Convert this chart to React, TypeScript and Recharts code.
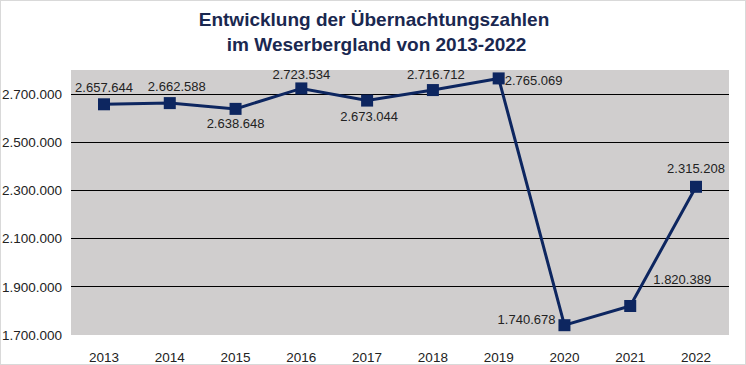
import { CartesianGrid, LabelList, Line, LineChart, ReferenceLine, XAxis, YAxis } from "recharts";

const years = ["2013", "2014", "2015", "2016", "2017", "2018", "2019", "2020", "2021", "2022"];
const nights = [2657644, 2662588, 2638648, 2723534, 2673044, 2716712, 2765069, 1740678, 1820389, 2315208];
const yTicks = [1700000, 1900000, 2100000, 2300000, 2500000, 2700000];

// where each value label sits relative to its marker
const labelPos: { dx: number; dy: number; anchor: "start" | "middle" | "end" }[] = [
  { dx: 0, dy: -17, anchor: "middle" },
  { dx: 7, dy: -17, anchor: "middle" },
  { dx: 0, dy: 15, anchor: "middle" },
  { dx: 0, dy: -14, anchor: "middle" },
  { dx: 2, dy: 16, anchor: "middle" },
  { dx: 3, dy: -16, anchor: "middle" },
  { dx: 6, dy: 2, anchor: "start" },
  { dx: -9, dy: -6, anchor: "end" },
  { dx: 52, dy: -26, anchor: "middle" },
  { dx: 0, dy: -18, anchor: "middle" },
];

const data = years.map((y, i) => ({ year: y, v: nights[i] }));
const fmt = (n: number) => n.toLocaleString("de-DE");
const NAVY = "#0d2660";
const FONT = "'Liberation Sans', Arial, sans-serif";

const Square = (p: any) => (
  <rect x={p.cx - 6} y={p.cy - 6} width={12} height={12} fill={NAVY} />
);

const ValueLabel = (p: any) => {
  const pos = labelPos[p.index];
  return (
    <text
      x={p.x + pos.dx}
      y={p.y + pos.dy}
      textAnchor={pos.anchor}
      dominantBaseline="central"
      fontSize={13}
      fontFamily={FONT}
      fill="#222"
    >
      {fmt(p.value)}
    </text>
  );
};

export default function App() {
  return (
    <div style={{ position: "relative", width: 746, height: 365, background: "#fff", boxSizing: "border-box", border: "1px solid #d9d9d9" }}>
      <style>{`body{margin:0}`}</style>
      <div
        style={{
          position: "absolute",
          top: 6,
          left: 0,
          width: 746,
          textAlign: "center",
          fontFamily: FONT,
          fontWeight: 700,
          fontSize: 19,
          lineHeight: "25px",
          color: "#1a2850",
        }}
      >
        Entwicklung der Übernachtungszahlen
        <br />
        &nbsp;im Weserbergland von 2013-2022
      </div>
      <LineChart
        width={744}
        height={363}
        data={data}
        margin={{ top: 69, right: 16, bottom: 0, left: 0 }}
        style={{ position: "absolute", top: 0, left: 0 }}
      >
        <CartesianGrid horizontal={false} vertical={false} fill="#d0cece" />
        {yTicks.slice(1).map((t) => (
          <ReferenceLine key={t} y={t} stroke="#000" strokeWidth={1} shapeRendering="crispEdges" />
        ))}
        <XAxis
          dataKey="year"
          padding={{ left: 33, right: 33 }}
          axisLine={false}
          tickLine={false}
          tickSize={0}
          tickMargin={17}
          height={29}
          tick={{ fontSize: 13.5, fontFamily: FONT, fill: "#222" }}
          interval={0}
        />
        <YAxis
          domain={[1700000, 2800000]}
          ticks={yTicks}
          tickFormatter={fmt}
          axisLine={false}
          tickLine={false}
          tickSize={0}
          tickMargin={9}
          width={70}
          tick={{ fontSize: 13.5, fontFamily: FONT, fill: "#222" }}
        />
        <Line
          type="linear"
          dataKey="v"
          stroke={NAVY}
          strokeWidth={3}
          dot={<Square />}
          activeDot={false}
          isAnimationActive={false}
        >
          <LabelList dataKey="v" content={<ValueLabel />} />
        </Line>
      </LineChart>
    </div>
  );
}
